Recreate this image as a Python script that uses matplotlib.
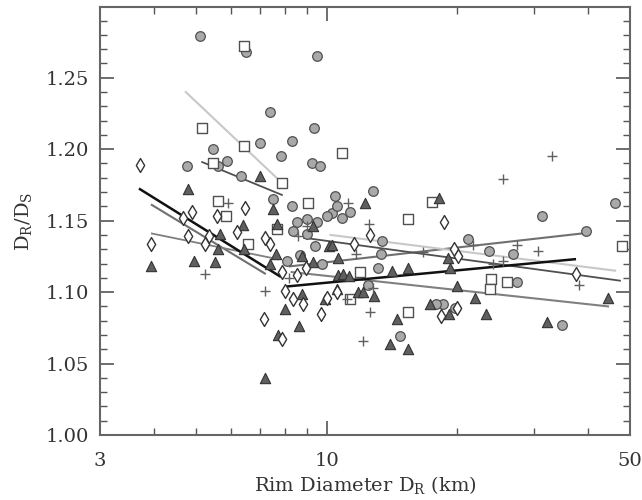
import matplotlib
matplotlib.use("Agg")
import matplotlib.pyplot as plt
from matplotlib.ticker import FixedLocator, MultipleLocator, NullFormatter, FixedFormatter

plt.rcParams['font.family'] = ['DejaVu Serif']
plt.rcParams['mathtext.fontset'] = 'dejavuserif'

# ---- data: (rim diameter km, DR/DS) ----
circ_d = [5.10, 6.51, 9.49, 7.40, 9.34, 5.47, 7.01, 4.76, 5.89, 5.61, 6.34, 7.84, 8.31, 9.25, 9.65,
          7.51, 8.31, 8.54, 9.00, 9.49, 8.36, 9.00, 10.45, 10.28, 10.01, 10.85, 11.31, 10.56, 9.39,
          12.78, 13.40, 21.2, 31.3, 39.6, 46.2, 23.65, 26.9, 13.33, 13.12, 12.45, 27.45, 18.54,
          17.86, 19.75, 14.75, 34.8, 8.09, 8.68, 9.75]
circ_r = [1.279, 1.268, 1.265, 1.226, 1.215, 1.200, 1.204, 1.188, 1.192, 1.188, 1.181, 1.195, 1.206,
          1.190, 1.188, 1.165, 1.160, 1.149, 1.151, 1.149, 1.143, 1.141, 1.167, 1.155, 1.153, 1.152,
          1.156, 1.160, 1.132, 1.171, 1.136, 1.137, 1.153, 1.143, 1.162, 1.129, 1.127, 1.127, 1.117,
          1.105, 1.107, 1.092, 1.092, 1.089, 1.069, 1.077, 1.122, 1.126, 1.120]

sq_d = [6.44, 5.16, 6.44, 5.47, 7.88, 10.85, 9.05, 5.61, 5.85, 7.67, 17.47, 15.4, 47.9, 11.93,
        23.9, 23.78, 26.0, 11.31, 15.4, 6.58]
sq_r = [1.272, 1.215, 1.202, 1.190, 1.176, 1.197, 1.162, 1.164, 1.153, 1.144, 1.163, 1.151, 1.132,
        1.114, 1.109, 1.102, 1.107, 1.095, 1.086, 1.134]

tri_d = [4.78, 7.01, 7.51, 7.67, 6.41, 5.67, 9.29, 10.11, 3.93, 4.93, 5.52, 5.61, 6.44, 7.63, 7.40,
         8.76, 9.29, 8.76, 8.01, 8.63, 7.72, 7.20, 9.91, 10.28, 10.61, 10.61, 10.90, 11.25, 10.56,
         11.80, 12.12, 12.85, 14.52, 13.99, 15.4, 14.14, 15.4, 19.0, 19.23, 19.95, 21.96, 23.3,
         17.29, 19.13, 32.2, 44.5, 12.25, 18.1]
tri_r = [1.172, 1.181, 1.158, 1.148, 1.147, 1.141, 1.146, 1.132, 1.118, 1.122, 1.121, 1.130, 1.130,
         1.127, 1.120, 1.125, 1.121, 1.099, 1.088, 1.076, 1.070, 1.040, 1.095, 1.133, 1.124, 1.112,
         1.113, 1.111, 1.102, 1.100, 1.100, 1.097, 1.081, 1.064, 1.060, 1.115, 1.117, 1.124, 1.117,
         1.104, 1.096, 1.085, 1.092, 1.085, 1.079, 1.096, 1.162, 1.166]

dia_d = [3.70, 4.89, 4.66, 6.48, 5.58, 4.79, 3.93, 5.24, 5.35, 6.21, 7.20, 7.40, 11.56, 7.88, 8.01,
         8.36, 8.53, 8.81, 8.95, 7.17, 7.88, 9.69, 10.01, 10.56, 12.58, 18.63, 19.65, 20.1, 37.5,
         18.34, 19.95]
dia_r = [1.189, 1.156, 1.152, 1.159, 1.153, 1.139, 1.134, 1.134, 1.139, 1.142, 1.138, 1.134, 1.134,
         1.114, 1.101, 1.095, 1.112, 1.092, 1.117, 1.081, 1.067, 1.085, 1.096, 1.100, 1.140, 1.149,
         1.130, 1.125, 1.113, 1.083, 1.089]

plus_d = [5.92, 11.19, 9.00, 8.58, 5.24, 7.20, 8.18, 12.52, 11.68, 12.78, 11.13, 12.58, 12.15, 16.66,
          21.73, 27.45, 30.7, 25.48, 24.17, 38.1, 25.5, 33.0]
plus_r = [1.162, 1.162, 1.146, 1.139, 1.113, 1.101, 1.110, 1.148, 1.127, 1.103, 1.095, 1.086, 1.066,
          1.128, 1.133, 1.133, 1.129, 1.122, 1.120, 1.105, 1.179, 1.195]

# regression lines: (d0, d1, r0, r1, color, width)
fit_lines = [
    (4.73, 7.72, 1.240, 1.179, '#c8c8c8', 1.5),
    (5.16, 7.88, 1.191, 1.168, '#505050', 1.3),
    (3.95, 7.20, 1.161, 1.113, '#707070', 1.5),
    (3.95, 7.72, 1.141, 1.123, '#808080', 1.3),
    (3.71, 7.80, 1.172, 1.111, '#111111', 1.8),
    (8.22, 38.7, 1.118, 1.141, '#707070', 1.5),
    (8.86, 47.4, 1.138, 1.108, '#505050', 1.3),
    (10.2, 46.2, 1.140, 1.115, '#c8c8c8', 1.5),
    (8.30, 44.5, 1.114, 1.090, '#808080', 1.5),
    (8.13, 37.3, 1.104, 1.123, '#111111', 1.8),
]

fig = plt.figure(figsize=(6.42, 5.00), dpi=100)
ax = fig.add_axes([100/642, 65/500, 530/642, 428/500])
ax.set_xscale('log')
ax.set_xlim(3, 50)
ax.set_ylim(1.0, 1.2995)

for d0, d1, r0, r1, c, w in fit_lines:
    ax.plot([d0, d1], [r0, r1], color=c, lw=w, zorder=2)

ax.scatter(circ_d, circ_r, s=48, marker='o', facecolor='#a9a9a9', edgecolor='#505050', linewidths=0.9, zorder=3)
ax.scatter(sq_d, sq_r, s=48, marker='s', facecolor='white', edgecolor='#505050', linewidths=1.0, zorder=3)
ax.scatter(tri_d, tri_r, s=55, marker='^', facecolor='#5f5f5f', edgecolor='#333333', linewidths=0.8, zorder=3)
ax.scatter(dia_d, dia_r, s=50, marker='d', facecolor='white', edgecolor='#333333', linewidths=1.0, zorder=3)
ax.scatter(plus_d, plus_r, s=60, marker='+', color='#606060', linewidths=1.0, zorder=3)

ax.xaxis.set_major_locator(FixedLocator([3, 10, 50]))
ax.xaxis.set_major_formatter(FixedFormatter(['3', '10', '50']))
ax.xaxis.set_minor_locator(FixedLocator([4, 5, 6, 7, 8, 9, 20, 30, 40]))
ax.xaxis.set_minor_formatter(NullFormatter())
ax.yaxis.set_major_locator(MultipleLocator(0.05))
ax.yaxis.set_minor_locator(MultipleLocator(0.01))
ax.yaxis.set_major_formatter(matplotlib.ticker.FormatStrFormatter('%.2f'))

ax.tick_params(which='both', direction='in', top=True, right=True, color='#555555', labelsize=14,
               labelcolor='#333333')
ax.tick_params(which='major', length=10, width=1.2)
ax.tick_params(axis='x', which='major', pad=12)
ax.tick_params(axis='y', which='major', pad=8)
ax.tick_params(which='minor', length=5, width=1.0)
for s in ax.spines.values():
    s.set_color('#666666')
    s.set_linewidth(1.5)

ax.set_xlabel('Rim Diameter D$_\\mathrm{R}$ (km)', fontsize=14, color='#333333', labelpad=3)
ax.set_ylabel('D$_\\mathrm{R}$/D$_\\mathrm{S}$', fontsize=14, color='#333333', labelpad=8)

fig.savefig('out.png', dpi=100)
